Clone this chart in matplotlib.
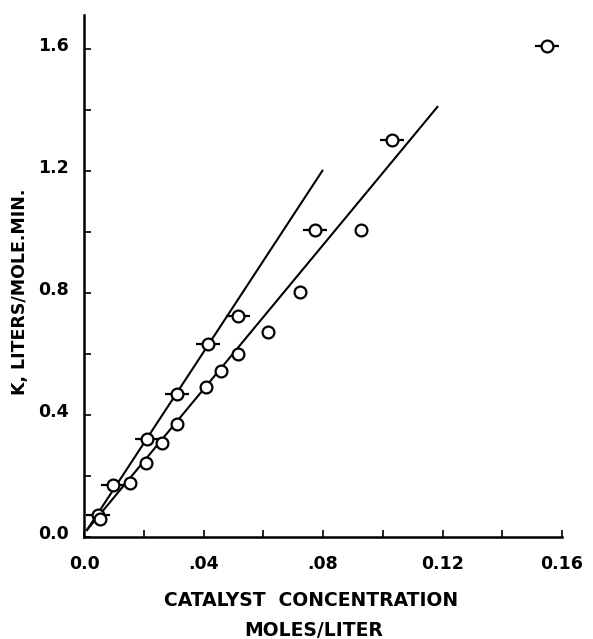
import numpy as np
import matplotlib.pyplot as plt
from matplotlib.transforms import ScaledTranslation

# points marked with a dash (-o-)
conc_a = [0.0048, 0.0098, 0.021, 0.031, 0.0414, 0.0515, 0.0773, 0.103, 0.155]
k_a = [0.072, 0.170, 0.320, 0.468, 0.632, 0.725, 1.007, 1.302, 1.607]

# plain circles
conc_b = [0.0054, 0.0154, 0.0207, 0.026, 0.031, 0.0407, 0.0458, 0.0515, 0.0616, 0.0723, 0.0927]
k_b = [0.058, 0.178, 0.242, 0.309, 0.370, 0.491, 0.544, 0.600, 0.673, 0.804, 1.007]

# fitted lines (end points)
line_a_x = [0.001, 0.0798]
line_a_y = [0.023, 1.200]
line_b_x = [0.001, 0.1183]
line_b_y = [0.023, 1.409]

xticks = [0.0, 0.04, 0.08, 0.12, 0.16]
xticklabels = ["0.0", ".04", ".08", "0.12", "0.16"]
yticks = [0.0, 0.4, 0.8, 1.2, 1.6]
yticklabels = ["0.0", "0.4", "0.8", "1.2", "1.6"]

fig = plt.figure(figsize=(5.93, 6.39), dpi=100)
ax = fig.add_axes([84 / 593, 1 - 537 / 639, (562 - 84) / 593, (537 - 15) / 639])

ax.plot(line_a_x, line_a_y, color="black", lw=1.5)
ax.plot(line_b_x, line_b_y, color="black", lw=1.5)

ax.plot(conc_a, k_a, ls="none", marker="_", ms=17, mew=1.6, color="black")
ax.plot(conc_a, k_a, ls="none", marker="o", ms=8.5, mew=1.6, mfc="white", mec="black")
ax.plot(conc_b, k_b, ls="none", marker="o", ms=8.5, mew=1.6, mfc="white", mec="black")

ax.set_xlim(0, 0.16)
ax.set_ylim(0, 1.71)
for s in ["top", "right"]:
    ax.spines[s].set_visible(False)
for s in ["left", "bottom"]:
    ax.spines[s].set_linewidth(1.8)

ax.set_xticks(xticks)
ax.set_xticklabels(xticklabels, fontsize=12.5, fontweight="bold")
ax.set_xticks(np.arange(0, 0.161, 0.02), minor=True)
ax.set_yticks(yticks)
ax.set_yticklabels(yticklabels, fontsize=12.5, fontweight="bold")
ax.set_yticks(np.arange(0, 1.61, 0.2), minor=True)
ax.tick_params(which="both", direction="in", length=5, width=1.2)
ax.tick_params(axis="x", which="major", pad=13)
ax.tick_params(axis="y", which="major", pad=11)

# y tick labels sit a little above their ticks in the original
up = ScaledTranslation(0, 5 / 100, fig.dpi_scale_trans)
for lab in ax.get_yticklabels():
    lab.set_transform(lab.get_transform() + up)

fig.text(311 / 593, 1 - 600 / 639, "CATALYST  CONCENTRATION", ha="center", va="center",
         fontsize=13.5, fontweight="bold")
fig.text(314 / 593, 1 - 630 / 639, "MOLES/LITER", ha="center", va="center",
         fontsize=13.5, fontweight="bold")
fig.text(20 / 593, 1 - 292 / 639, "K, LITERS/MOLE.MIN.", ha="center", va="center",
         rotation=90, fontsize=12.5, fontweight="bold")

fig.savefig("out.png", dpi=100)
